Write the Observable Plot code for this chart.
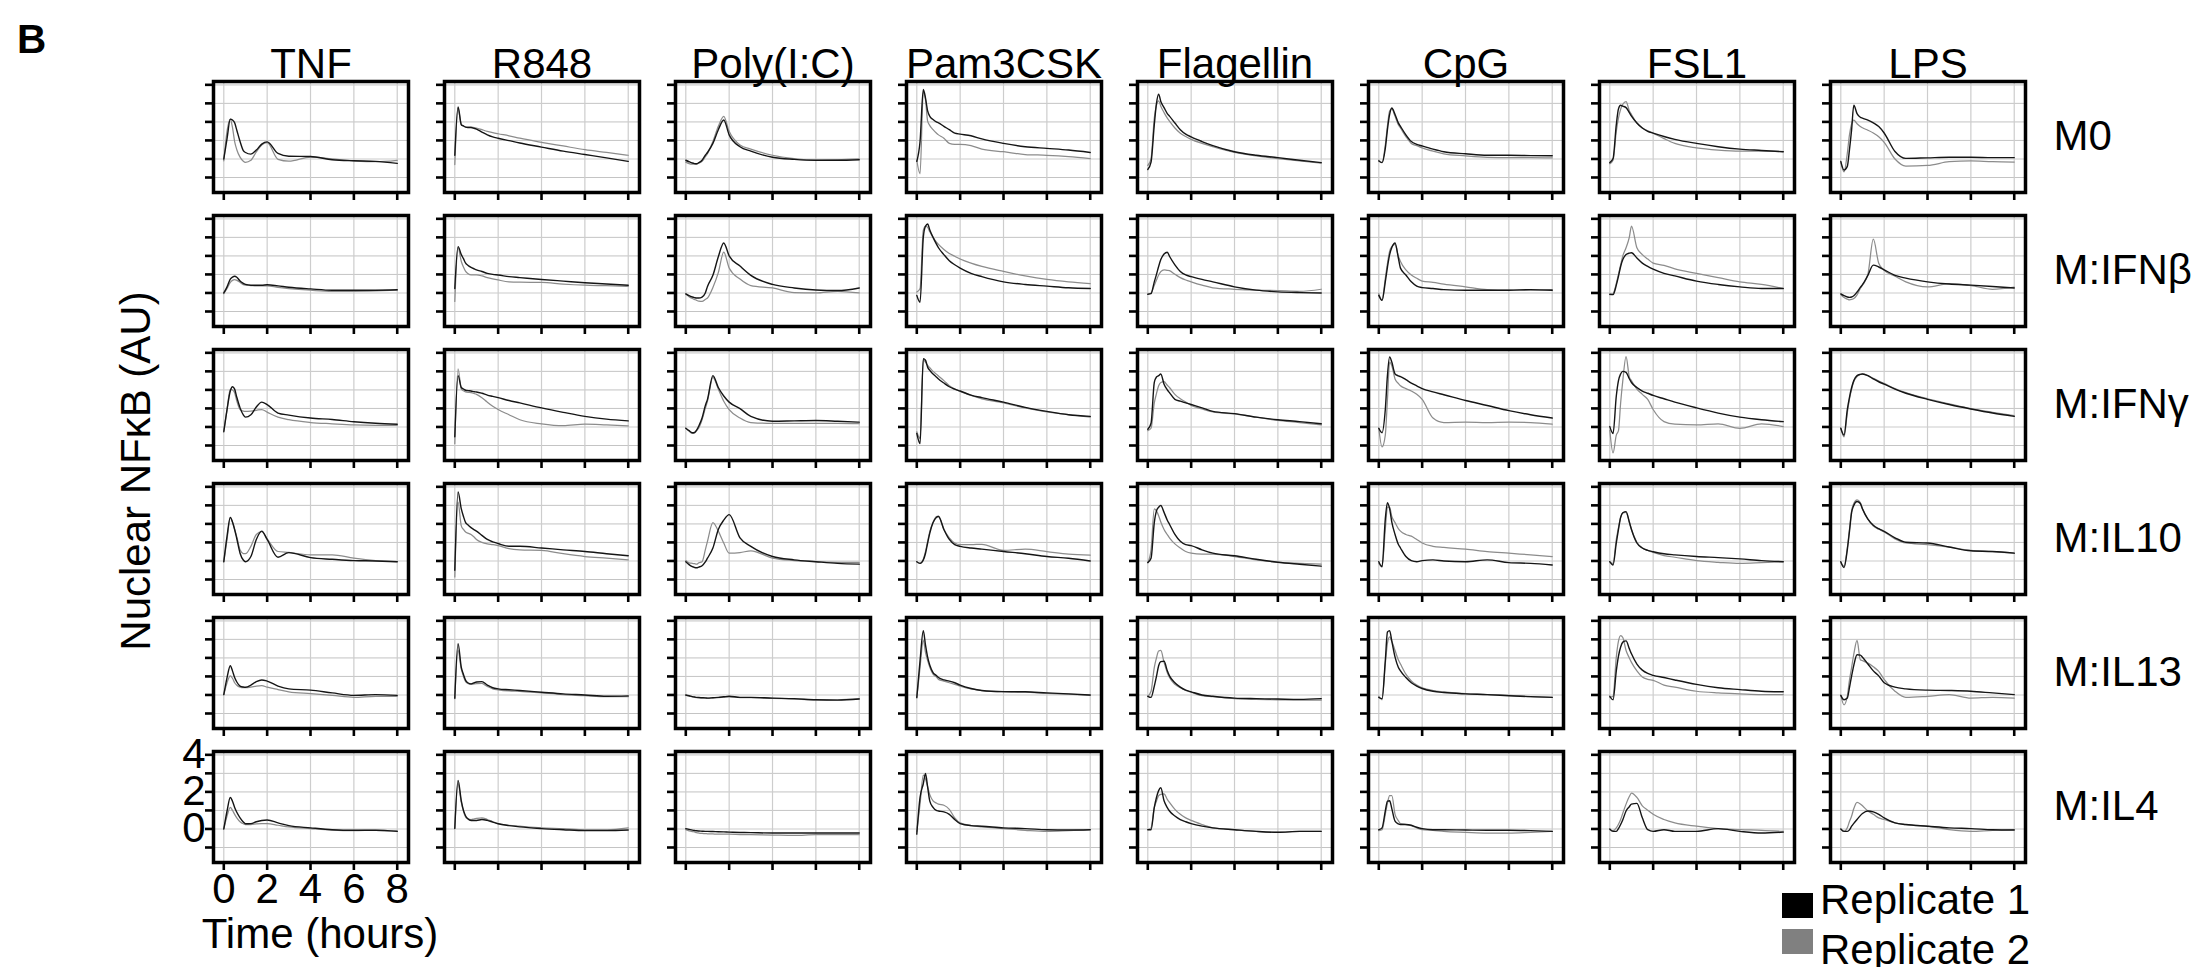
<!DOCTYPE html>
<html>
<head>
<meta charset="utf-8">
<script src="https://cdn.jsdelivr.net/npm/d3@7"></script>
<script src="https://cdn.jsdelivr.net/npm/@observablehq/plot@0.6"></script>
<style>
  html, body { margin: 0; padding: 0; background: #fff; }
  #wrap { position: relative; width: 2197px; height: 967px; overflow: hidden;
          font-family: "Liberation Sans", Arial, Helvetica, sans-serif; color: #000; }
  #wrap svg { position: absolute; left: 0; top: 0; }
  .lab { position: absolute; white-space: nowrap; line-height: 1; }
  .sw { position: absolute; }
</style>
</head>
<body>
<div id="wrap"></div>
<script>
// ---------------- data ----------------
const stimuli = ["TNF", "R848", "Poly(I:C)", "Pam3CSK", "Flagellin", "CpG", "FSL1", "LPS"];
const conditions = ["M0", "M:IFNβ", "M:IFNγ", "M:IL10", "M:IL13", "M:IL4"];
const replicates = ["Replicate 1", "Replicate 2"];
const hours = [0, 0.15, 0.3, 0.4, 0.5, 0.6, 0.75, 0.9, 1, 1.25, 1.5, 1.75, 2, 2.5, 3, 4, 5, 6, 7, 8];
const xTicks = [0, 2, 4, 6, 8];
const yTicks = [-1, 0, 1, 2, 3, 4];
const yTickLabels = [0, 2, 4];

// each stimulus: one entry per condition (M0, IFNβ, IFNγ, IL10, IL13, IL4) = [replicate 1, replicate 2]
const TNF = [
  [[0,1.1,2.15,2.1,1.95,1.55,0.94,0.45,0.35,0.26,0.48,0.8,0.92,0.3,0.15,0.13,-0.04,-0.1,-0.13,-0.24],
   [-0.1,1.5,2.15,1.7,0.94,0.5,0.1,-0.12,-0.18,-0.07,0.38,0.75,0.88,-0.02,-0.12,0.1,0,-0.1,-0.15,-0.07]],
  [[0,0.33,0.75,0.85,0.9,0.85,0.64,0.52,0.46,0.42,0.42,0.42,0.44,0.38,0.31,0.22,0.15,0.15,0.15,0.17],
   [-0.04,0.24,0.57,0.68,0.72,0.68,0.57,0.45,0.42,0.4,0.38,0.38,0.38,0.3,0.24,0.15,0.09,0.09,0.11,0.15]],
  [[-0.26,0.94,1.94,2.17,2.04,1.6,1.03,0.65,0.53,0.66,1.08,1.34,1.21,0.75,0.64,0.48,0.4,0.28,0.2,0.15],
   [-0.2,0.94,2.04,2.0,1.85,1.4,0.94,0.85,0.84,0.86,0.9,0.94,0.8,0.53,0.39,0.24,0.17,0.11,0.09,0.09]],
  [[-0.04,1.34,2.35,2.1,1.7,1.2,0.42,0.05,-0.04,0.24,1.16,1.61,1.16,0.2,0.45,0.18,0.09,0.02,0,-0.04],
   [-0.04,1.16,2.35,2.1,1.7,1.3,0.6,0.4,0.39,0.79,1.43,1.58,1.19,0.51,0.46,0.33,0.33,0.15,0.02,-0.04]],
  [[0.02,0.94,1.58,1.3,0.94,0.7,0.48,0.43,0.42,0.53,0.72,0.81,0.75,0.48,0.33,0.26,0.11,-0.02,0.02,-0.02],
   [0.02,0.66,1.03,0.9,0.66,0.52,0.42,0.39,0.39,0.42,0.48,0.51,0.42,0.29,0.17,0.07,-0.02,-0.13,-0.07,-0.07]],
  [[0,0.97,1.7,1.5,1.16,0.9,0.6,0.38,0.28,0.29,0.39,0.46,0.48,0.33,0.18,0.06,-0.04,-0.07,-0.07,-0.13],
   [0,0.7,1.16,1.0,0.79,0.6,0.39,0.28,0.24,0.24,0.28,0.29,0.29,0.2,0.11,0.02,-0.06,-0.09,-0.07,-0.11]]
];
const R848 = [
  [[0.2,2.8,1.85,1.78,1.72,1.7,1.7,1.65,1.61,1.45,1.3,1.19,1.12,0.99,0.86,0.64,0.42,0.24,0.06,-0.13],
   [-0.3,2.75,1.85,1.78,1.72,1.72,1.72,1.69,1.67,1.58,1.49,1.42,1.36,1.25,1.12,0.9,0.7,0.5,0.35,0.2]],
  [[0.24,2.5,2.07,1.85,1.61,1.5,1.38,1.3,1.25,1.16,1.06,1.0,0.97,0.88,0.83,0.73,0.64,0.55,0.48,0.42],
   [-0.46,2.44,1.7,1.4,1.16,1.05,0.97,0.97,0.97,0.92,0.83,0.76,0.7,0.6,0.58,0.57,0.48,0.42,0.39,0.35]],
  [[-0.53,2.77,2.13,2.05,1.98,1.96,1.94,1.9,1.89,1.82,1.72,1.65,1.58,1.43,1.3,1.03,0.79,0.57,0.42,0.33],
   [-0.9,3.14,2.04,1.95,1.89,1.87,1.85,1.8,1.76,1.58,1.34,1.12,0.94,0.66,0.39,0.17,0.07,0.15,0.11,0.06]],
  [[-0.5,3.72,2.81,2.4,2.07,1.95,1.8,1.68,1.61,1.38,1.16,1.03,0.94,0.79,0.79,0.7,0.6,0.51,0.39,0.28],
   [-0.86,3.17,1.89,1.7,1.56,1.5,1.43,1.28,1.16,1.0,0.92,0.88,0.83,0.66,0.6,0.57,0.39,0.24,0.15,0.06]],
  [[-0.17,2.77,1.49,1.1,0.79,0.66,0.6,0.66,0.7,0.72,0.53,0.39,0.33,0.28,0.24,0.15,0.06,0,-0.07,-0.05],
   [-0.2,2.4,1.39,1.0,0.72,0.62,0.57,0.6,0.61,0.62,0.46,0.33,0.28,0.22,0.2,0.11,0.02,-0.04,-0.09,-0.09]],
  [[0.02,2.62,1.52,1.0,0.7,0.55,0.46,0.46,0.46,0.51,0.46,0.37,0.28,0.18,0.11,0.02,-0.04,-0.09,-0.09,-0.06],
   [0.06,2.44,1.43,0.95,0.64,0.55,0.51,0.55,0.57,0.6,0.51,0.39,0.29,0.2,0.15,0.06,0.02,-0.04,-0.04,0.06]]
];
const POLYIC = [
  [[-0.07,-0.15,-0.22,-0.25,-0.26,-0.2,-0.07,0.2,0.35,0.84,1.58,2.1,1.3,0.66,0.42,0.09,-0.02,-0.07,-0.07,-0.04],
   [-0.17,-0.25,-0.28,-0.28,-0.28,-0.22,-0.13,0.12,0.29,0.94,1.76,2.3,1.49,0.75,0.53,0.2,0.02,-0.07,-0.05,0]],
  [[-0.05,-0.15,-0.22,-0.25,-0.27,-0.27,-0.22,0,0.35,0.95,1.95,2.7,2.0,1.45,0.95,0.46,0.27,0.16,0.13,0.27],
   [-0.05,-0.2,-0.3,-0.35,-0.4,-0.44,-0.46,-0.35,-0.27,0.3,1.1,2.2,1.35,0.75,0.4,0.27,0.02,0,0.09,0]],
  [[-0.07,-0.2,-0.31,-0.3,-0.17,0.05,0.48,1.15,1.49,2.77,2.13,1.67,1.34,0.99,0.57,0.31,0.33,0.35,0.31,0.26],
   [-0.07,-0.22,-0.35,-0.32,-0.2,-0.05,0.39,1.0,1.39,2.68,2.04,1.39,0.94,0.48,0.24,0.2,0.2,0.2,0.2,0.18]],
  [[-0.04,-0.2,-0.31,-0.35,-0.37,-0.33,-0.26,-0.05,0.15,0.7,1.7,2.2,2.5,1.25,0.79,0.24,0.06,-0.04,-0.13,-0.17],
   [0.02,-0.1,-0.13,-0.15,-0.17,-0.1,-0.04,0.6,1.06,2.07,1.61,0.97,0.42,0.45,0.55,0.15,0.02,-0.04,-0.07,-0.07]],
  [[0,-0.04,-0.09,-0.11,-0.13,-0.14,-0.15,-0.16,-0.17,-0.15,-0.13,-0.1,-0.07,-0.13,-0.13,-0.17,-0.2,-0.26,-0.28,-0.22],
   [-0.02,-0.05,-0.1,-0.12,-0.14,-0.15,-0.16,-0.17,-0.17,-0.16,-0.14,-0.12,-0.1,-0.14,-0.15,-0.18,-0.22,-0.26,-0.26,-0.2]],
  [[0.02,-0.02,-0.06,-0.08,-0.1,-0.11,-0.12,-0.13,-0.13,-0.14,-0.15,-0.16,-0.17,-0.19,-0.2,-0.22,-0.22,-0.22,-0.22,-0.22],
   [-0.04,-0.1,-0.14,-0.16,-0.2,-0.22,-0.24,-0.25,-0.26,-0.27,-0.28,-0.28,-0.28,-0.3,-0.31,-0.33,-0.35,-0.31,-0.31,-0.31]]
];
const PAM3CSK = [
  [[-0.13,0.94,3.75,3.3,2.59,2.3,2.13,2.0,1.95,1.76,1.58,1.39,1.34,1.25,1.08,0.84,0.66,0.57,0.48,0.35],
   [-0.07,-0.8,3.6,3.2,2.04,1.8,1.58,1.4,1.3,1.12,0.84,0.79,0.79,0.72,0.53,0.39,0.24,0.2,0.13,0.02]],
  [[-0.13,-0.5,3.0,3.6,3.72,3.4,3.0,2.65,2.44,2.07,1.74,1.52,1.34,1.06,0.88,0.6,0.46,0.37,0.28,0.24],
   [0.05,0.24,3.37,3.6,3.54,3.3,3.0,2.75,2.62,2.35,2.13,1.98,1.83,1.61,1.43,1.16,0.92,0.73,0.6,0.51]],
  [[-0.35,-0.9,3.69,3.6,3.23,3.05,2.86,2.7,2.59,2.37,2.17,2.04,1.94,1.72,1.58,1.34,1.06,0.84,0.66,0.57],
   [-0.26,-0.62,3.6,3.5,3.32,3.2,3.0,2.85,2.75,2.5,2.22,2.04,1.92,1.7,1.52,1.3,1.03,0.81,0.66,0.53]],
  [[-0.04,-0.13,0.05,0.4,0.97,1.5,2.07,2.35,2.4,1.7,1.16,0.88,0.79,0.7,0.64,0.51,0.39,0.24,0.15,0],
   [-0.04,-0.13,0.09,0.5,1.06,1.6,2.07,2.4,2.42,1.7,1.25,0.97,0.88,0.88,0.9,0.57,0.64,0.51,0.37,0.31]],
  [[-0.13,1.85,3.47,2.7,2.04,1.6,1.21,1.05,0.94,0.81,0.75,0.66,0.53,0.35,0.24,0.18,0.17,0.11,0.06,0],
   [-0.17,1.49,2.95,2.3,1.85,1.5,1.12,0.98,0.84,0.75,0.66,0.57,0.48,0.33,0.24,0.17,0.15,0.09,0.04,-0.02]],
  [[-0.28,1.7,2.44,2.99,2.26,1.5,1.16,1.0,0.97,0.92,0.79,0.51,0.29,0.18,0.15,0.06,0.02,-0.04,-0.06,-0.04],
   [-0.13,1.34,2.9,2.7,2.3,1.85,1.52,1.4,1.34,1.28,1.06,0.6,0.33,0.18,0.11,0.02,-0.07,-0.13,-0.09,-0.04]]
];
const FLAGELLIN = [
  [[-0.57,-0.17,1.85,3.0,3.5,3.1,2.77,2.45,2.31,1.94,1.58,1.34,1.19,0.94,0.72,0.39,0.2,0.07,-0.07,-0.2],
   [-0.35,0.02,2.2,2.9,3.14,2.85,2.5,2.2,2.04,1.67,1.39,1.21,1.06,0.84,0.66,0.35,0.17,0.02,-0.11,-0.22]],
  [[-0.07,-0.04,0.6,1.0,1.43,1.8,2.1,2.2,1.98,1.52,1.16,0.97,0.88,0.73,0.6,0.33,0.15,0.06,0.02,0],
   [-0.07,0,0.42,0.7,0.97,1.15,1.25,1.22,1.2,1.01,0.83,0.7,0.6,0.42,0.28,0.2,0.15,0.13,0.09,0.2]],
  [[-0.13,0.2,2.4,2.7,2.77,2.86,2.31,2.0,1.85,1.49,1.39,1.3,1.21,1.03,0.84,0.72,0.53,0.39,0.29,0.17],
   [-0.2,-0.07,1.3,1.8,2.22,2.4,2.44,2.25,2.13,1.76,1.52,1.34,1.16,0.97,0.81,0.7,0.53,0.35,0.24,0.11]],
  [[-0.09,0.15,2.07,2.7,2.9,2.99,2.62,2.2,1.98,1.43,1.06,0.88,0.83,0.6,0.42,0.28,0.09,-0.07,-0.18,-0.28],
   [-0.09,0.6,2.81,2.7,2.44,2.1,1.7,1.42,1.25,0.92,0.7,0.51,0.42,0.37,0.37,0.24,0.06,-0.07,-0.13,-0.17]],
  [[-0.07,-0.13,0.48,1.0,1.58,1.8,1.82,1.3,1.03,0.66,0.42,0.26,0.17,0,-0.07,-0.17,-0.2,-0.22,-0.24,-0.2],
   [-0.07,0.2,1.49,2.0,2.37,2.4,1.76,1.2,0.94,0.57,0.39,0.24,0.15,-0.04,-0.09,-0.2,-0.24,-0.26,-0.28,-0.28]],
  [[-0.04,-0.04,1.16,1.7,2.07,2.22,1.52,1.15,0.97,0.7,0.51,0.39,0.29,0.15,0.06,-0.04,-0.13,-0.18,-0.13,-0.13],
   [-0.04,0.06,1.16,1.5,1.8,1.87,1.89,1.6,1.43,1.06,0.79,0.6,0.46,0.24,0.06,-0.04,-0.13,-0.18,-0.13,-0.13]]
];
const CPG = [
  [[-0.11,-0.2,0.57,1.6,2.4,2.75,2.4,1.95,1.76,1.3,0.94,0.79,0.7,0.53,0.39,0.28,0.2,0.2,0.18,0.17],
   [-0.07,-0.2,0.75,1.8,2.59,2.7,2.3,1.85,1.67,1.21,0.84,0.72,0.6,0.42,0.28,0.17,0.09,0.07,0.07,0.06]],
  [[-0.13,-0.4,0.6,1.4,2.07,2.45,2.7,1.9,1.34,0.97,0.6,0.37,0.29,0.24,0.18,0.15,0.15,0.15,0.18,0.15],
   [-0.04,-0.4,0.79,1.6,2.26,2.5,2.62,2.0,1.7,1.25,0.97,0.79,0.64,0.57,0.48,0.33,0.18,0.15,0.15,0.18]],
  [[-0.07,-0.31,0.94,2.8,3.78,3.5,2.86,2.76,2.72,2.55,2.37,2.22,2.07,1.89,1.74,1.43,1.16,0.88,0.66,0.48],
   [-0.07,-1.08,-0.44,1.5,3.5,3.3,2.59,2.35,2.22,2.07,1.94,1.76,1.49,0.48,0.24,0.26,0.24,0.26,0.24,0.15]],
  [[-0.04,-0.31,2.26,3.15,2.81,2.1,1.43,0.9,0.7,0.24,0.02,-0.04,0.02,0.06,0,-0.04,0.06,-0.09,-0.13,-0.22],
   [-0.13,-0.31,1.7,2.9,2.9,2.4,2.07,1.75,1.61,1.43,1.34,1.16,0.97,0.79,0.73,0.64,0.51,0.42,0.33,0.24]],
  [[-0.13,-0.2,1.85,3.4,3.47,2.9,2.04,1.5,1.3,0.94,0.66,0.48,0.35,0.2,0.13,0.06,0.02,-0.04,-0.09,-0.13],
   [-0.07,-0.26,1.67,2.8,3.14,2.9,2.4,1.9,1.67,1.12,0.75,0.53,0.39,0.24,0.17,0.07,0.02,-0.02,-0.09,-0.13]],
  [[-0.04,0.06,0.97,1.5,1.52,1.1,0.42,0.28,0.24,0.24,0.2,0.09,0.02,-0.04,-0.04,-0.06,-0.07,-0.07,-0.09,-0.13],
   [-0.09,-0.04,0.79,1.4,1.8,1.8,0.79,0.45,0.29,0.24,0.18,0.06,-0.04,-0.07,-0.13,-0.18,-0.22,-0.22,-0.18,-0.13]]
];
const FSL1 = [
  [[-0.2,0.02,1.85,2.7,2.9,2.85,2.77,2.5,2.31,1.94,1.67,1.49,1.39,1.21,1.06,0.84,0.66,0.53,0.46,0.39],
   [-0.26,-0.07,1.49,2.2,2.68,2.95,3.1,2.6,2.4,1.94,1.67,1.52,1.39,1.1,0.84,0.6,0.48,0.42,0.42,0.39]],
  [[-0.07,-0.09,0.42,0.9,1.43,1.8,2.07,2.15,2.17,1.89,1.61,1.43,1.28,1.06,0.92,0.64,0.46,0.33,0.24,0.24],
   [-0.09,-0.04,0.51,1.0,1.52,2.0,2.44,3.0,3.6,2.44,2.07,1.83,1.61,1.49,1.3,1.06,0.83,0.6,0.46,0.24]],
  [[0.02,-0.35,1.67,2.5,2.86,3.0,2.95,2.6,2.4,2.13,1.94,1.82,1.7,1.52,1.34,1.03,0.75,0.53,0.39,0.29],
   [-0.17,-1.4,-0.44,-0.2,1.3,2.5,3.8,2.7,2.5,2.04,1.76,1.49,0.94,0.29,0.15,0.11,0.17,-0.07,0.17,0.02]],
  [[-0.04,-0.22,0.97,1.7,2.35,2.6,2.66,2.1,1.7,0.97,0.7,0.57,0.5,0.39,0.33,0.24,0.18,0.11,0.02,-0.04],
   [-0.09,-0.13,1.16,1.8,2.35,2.6,2.62,2.1,1.7,1.01,0.7,0.57,0.46,0.29,0.2,0.02,-0.07,-0.13,-0.09,-0.04]],
  [[-0.07,-0.26,1.3,2.1,2.59,2.85,2.92,2.5,2.22,1.67,1.34,1.16,1.06,0.94,0.81,0.57,0.39,0.29,0.2,0.17],
   [-0.13,-0.07,2.04,2.9,3.2,3.1,2.4,2.0,1.76,1.3,0.97,0.84,0.79,0.53,0.42,0.2,0.11,0.06,0.02,0.02]],
  [[0,-0.13,-0.13,0.02,0.24,0.5,0.97,1.2,1.34,1.38,0.6,-0.04,-0.13,-0.04,-0.13,-0.13,0.02,-0.13,-0.22,-0.17],
   [-0.04,-0.09,0.06,0.25,0.51,0.85,1.34,1.75,1.93,1.7,1.25,1.01,0.79,0.51,0.33,0.15,0.02,-0.04,-0.07,-0.13]]
];
const LPS = [
  [[-0.13,-0.6,-0.4,0.5,1.6,2.9,2.45,2.25,2.2,2.1,1.95,1.75,1.4,0.4,0.03,0.06,0.09,0.09,0.07,0.07],
   [-0.2,-0.7,0.3,1.3,1.9,2.1,1.9,1.75,1.68,1.55,1.4,1.2,0.9,0.0,-0.38,-0.35,-0.15,-0.1,-0.15,-0.17]],
  [[-0.05,-0.15,-0.22,-0.24,-0.22,-0.15,0.05,0.3,0.45,0.95,1.5,1.4,1.25,0.95,0.8,0.6,0.48,0.42,0.35,0.27],
   [-0.09,-0.25,-0.33,-0.37,-0.35,-0.3,-0.1,0.25,0.42,1.0,2.9,1.6,1.22,0.9,0.6,0.33,0.5,0.4,0.2,0.31]],
  [[-0.07,-0.44,0.94,1.6,2.13,2.5,2.77,2.84,2.86,2.77,2.59,2.44,2.31,2.04,1.82,1.49,1.21,0.97,0.75,0.57],
   [-0.07,-0.53,0.75,1.5,2.04,2.45,2.72,2.84,2.86,2.77,2.62,2.48,2.35,2.07,1.85,1.52,1.25,0.99,0.79,0.61]],
  [[-0.04,-0.35,0.6,1.6,2.62,3.0,3.21,3.1,2.81,2.26,1.93,1.74,1.6,1.25,1.01,0.97,0.75,0.55,0.51,0.42],
   [-0.09,-0.28,0.7,1.7,2.7,3.1,3.3,3.15,2.81,2.26,1.89,1.71,1.57,1.19,0.97,0.88,0.75,0.57,0.51,0.42]],
  [[-0.02,-0.26,-0.17,0.4,1.03,1.6,2.17,2.15,2.04,1.67,1.3,1.03,0.66,0.42,0.33,0.26,0.24,0.2,0.11,0.02],
   [-0.02,-0.53,-0.07,0.8,1.49,2.2,2.95,1.9,1.85,1.72,1.52,1.27,0.84,0.2,-0.13,-0.07,0.02,-0.17,-0.13,-0.17]],
  [[0,-0.13,-0.13,-0.05,0.15,0.3,0.51,0.72,0.83,0.97,0.92,0.79,0.6,0.33,0.24,0.15,0.06,0.02,-0.04,-0.06],
   [0,-0.13,0.06,0.4,0.7,1.1,1.43,1.35,1.25,0.97,0.79,0.6,0.51,0.33,0.24,0.15,-0.04,-0.13,-0.07,-0.04]]
];

const seriesByStimulus = [TNF, R848, POLYIC, PAM3CSK, FLAGELLIN, CPG, FSL1, LPS];

// ---------------- long table ----------------
const rows = [];
stimuli.forEach((stim, i) => {
  conditions.forEach((cond, j) => {
    replicates.forEach((rep, k) => {
      const vals = seriesByStimulus[i][j][k];
      if (vals.length !== hours.length) throw new Error(`length mismatch ${stim} ${cond} ${rep}: ${vals.length}`);
      hours.forEach((t, m) => rows.push({stim, cond, rep, t, v: vals[m]}));
    });
  });
});

const FONT = 42;
const firstCol = stimuli[0], lastCol = stimuli[stimuli.length - 1];
const firstRow = conditions[0], lastRow = conditions[conditions.length - 1];
const colHeaders = stimuli.map(s => ({stim: s, cond: firstRow}));
const rowHeaders = conditions.map(c => ({stim: lastCol, cond: c}));
const yLabelData = yTickLabels.map(v => ({v, stim: firstCol, cond: lastRow}));
const xLabelData = xTicks.map(v => ({v, stim: firstCol, cond: lastRow}));
const xTitleData = [{label: "Time (hours)", stim: firstCol, cond: lastRow}];

const rep1Color = "#151515", rep2Color = "#8c8c8c";

const chart = Plot.plot({
  width: 2197,
  height: 967,
  marginLeft: 213,
  marginRight: 172,
  marginTop: 81,
  marginBottom: 105,
  style: {fontFamily: '"Liberation Sans", Arial, Helvetica, sans-serif', fontSize: FONT + "px", background: "transparent", color: "#000"},
  x: {domain: [-0.475, 8.52], axis: null},
  y: {domain: [-1.81, 4.18], axis: null},
  fx: {domain: stimuli, paddingInner: 36 / 231, paddingOuter: 0, round: false, axis: null},
  fy: {domain: conditions, paddingInner: 23 / 134, paddingOuter: 0, round: false, axis: null},
  color: {domain: replicates, range: [rep1Color, rep2Color]},
  marks: [
    Plot.gridY(yTicks.filter(d => d % 2 !== 0), {stroke: "#c4c4c4", strokeOpacity: 1, strokeWidth: 1, facetAnchor: null}),
    Plot.gridY(yTicks.filter(d => d % 2 === 0), {stroke: "#dcdcdc", strokeOpacity: 1, strokeWidth: 1.6, facetAnchor: null}),
    Plot.gridX(xTicks, {stroke: "#cdcdcd", strokeOpacity: 1, strokeWidth: 1.2, facetAnchor: null}),
    Plot.line(rows.filter(d => d.rep === replicates[1]), {
      x: "t", y: "v", z: "rep", stroke: "rep", fx: "stim", fy: "cond",
      curve: "monotone-x", strokeWidth: 1.25
    }),
    Plot.line(rows.filter(d => d.rep === replicates[0]), {
      x: "t", y: "v", z: "rep", stroke: "rep", fx: "stim", fy: "cond",
      curve: "monotone-x", strokeWidth: 1.4
    }),
    Plot.frame({stroke: "#000", strokeWidth: 3.5}),
    Plot.axisY(yTicks, {anchor: "left", tickSize: 8, strokeWidth: 2.6, tickFormat: () => "", label: null, facetAnchor: null}),
    Plot.axisX(xTicks, {anchor: "bottom", tickSize: 8, strokeWidth: 2.6, tickFormat: () => "", label: null, facetAnchor: null}),
    // column headers
    Plot.text(colHeaders, {fx: "stim", fy: "cond", text: "stim", frameAnchor: "top", lineAnchor: "bottom", dy: -4, fontSize: FONT}),
    // row headers
    Plot.text(rowHeaders, {fx: "stim", fy: "cond", text: "cond", frameAnchor: "right", textAnchor: "start", lineAnchor: "middle", dx: 28, fontSize: FONT}),
    // y tick labels (bottom-left panel only)
    Plot.text(yLabelData, {fx: "stim", fy: "cond", y: "v", text: d => String(d.v), frameAnchor: "left", textAnchor: "end", lineAnchor: "middle", dx: -8, fontSize: FONT}),
    // x tick labels
    Plot.text(xLabelData, {fx: "stim", fy: "cond", x: "v", text: d => String(d.v), frameAnchor: "bottom", lineAnchor: "top", dy: 11, fontSize: FONT}),
    // x title
    Plot.text(xTitleData, {fx: "stim", fy: "cond", text: "label", frameAnchor: "bottom", lineAnchor: "top", dy: 56, dx: 9, fontSize: FONT})
  ]
});

const wrap = document.getElementById("wrap");
wrap.appendChild(chart);

// ---------------- annotations (HTML) ----------------
function addLabel(text, css) {
  const d = document.createElement("div");
  d.className = "lab";
  d.textContent = text;
  Object.assign(d.style, css);
  wrap.appendChild(d);
  return d;
}
// panel letter
addLabel("B", {left: "17px", top: "19px", fontSize: "40.5px", fontWeight: "bold"});

// y-axis title (rotated)
const yt = document.createElement("div");
Object.assign(yt.style, {position: "absolute", left: "150px", top: "471px", width: "0", height: "0", transform: "rotate(-90deg)", transformOrigin: "0 0"});
const ytIn = document.createElement("div");
ytIn.className = "lab";
ytIn.textContent = "Nuclear NFκB (AU)";
Object.assign(ytIn.style, {left: "0", top: "0", fontSize: FONT + "px", transform: "translate(-50%, -35.5px)"});
yt.appendChild(ytIn);
wrap.appendChild(yt);

// legend
const legendItems = [
  {label: replicates[0], color: rep1Color === "#151515" ? "#000" : rep1Color, boxTop: 893, baseline: 914},
  {label: replicates[1], color: "#808080", boxTop: 929, baseline: 964}
];
legendItems.forEach(it => {
  const sw = document.createElement("div");
  sw.className = "sw";
  Object.assign(sw.style, {left: "1782px", top: it.boxTop + "px", width: "31px", height: "25px", background: it.color});
  wrap.appendChild(sw);
  addLabel(it.label, {left: "1820px", top: (it.baseline - 35.5) + "px", fontSize: FONT + "px"});
});
</script>
</body>
</html>
